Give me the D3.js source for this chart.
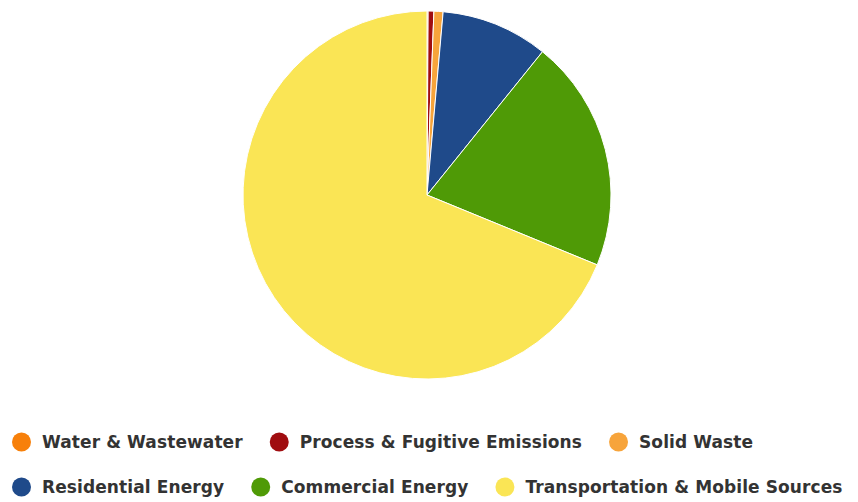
<!DOCTYPE html>
<html>
<head>
<meta charset="utf-8">
<script src="https://cdn.jsdelivr.net/npm/d3@7"></script>
<style>
  body { margin: 0; background: #fff; }
  text { font-family: "DejaVu Sans", sans-serif; font-weight: bold; fill: #333; }
</style>
</head>
<body>
<div id="container"></div>
<script>
// emissions share by sector (percent)
const categories = ['Water & Wastewater', 'Process & Fugitive Emissions', 'Solid Waste',
                    'Residential Energy', 'Commercial Energy', 'Transportation & Mobile Sources'];
const values = [0.1, 0.5, 0.8, 9.4, 20.4, 68.8];
const colors = ['#f7800a', '#a00d10', '#f7a43b', '#1f4a8a', '#4f9a06', '#fae555'];
const legendRows = [[0, 1, 2], [3, 4, 5]];

const width = 858, height = 502;
const cx = 427, cy = 195, radius = 184;

const svg = d3.select('#container')
              .append('svg')
              .attr('width', width)
              .attr('height', height);

const data = categories.map((c, i) => ({ name: c, value: values[i], color: colors[i] }));

const pie = d3.pie()
              .sort(null)
              .value(d => d.value);

const arc = d3.arc()
              .innerRadius(0)
              .outerRadius(radius);

svg.append('g')
   .attr('transform', `translate(${cx}, ${cy})`)
   .selectAll('path')
   .data(pie(data))
   .enter()
   .append('path')
   .attr('d', arc)
   .attr('fill', d => d.data.color)
   .attr('stroke', '#fff')
   .attr('stroke-width', 1);

//---------------------
// LEGEND
//---------------------

const rowY = [442, 487];
const markerR = 9.5;
legendRows.forEach((row, r) => {
  let x = 12;
  row.forEach(i => {
    const g = svg.append('g').attr('transform', `translate(${x}, ${rowY[r]})`);
    g.append('circle')
     .attr('cx', markerR)
     .attr('cy', 0)
     .attr('r', markerR)
     .attr('fill', colors[i]);
    const t = g.append('text')
               .attr('x', 30)
               .attr('y', 6)
               .style('font-size', '17px')
               .style('letter-spacing', '0.1px')
               .text(categories[i]);
    x += 30 + t.node().getComputedTextLength() + 27;
  });
});
</script>
</body>
</html>
